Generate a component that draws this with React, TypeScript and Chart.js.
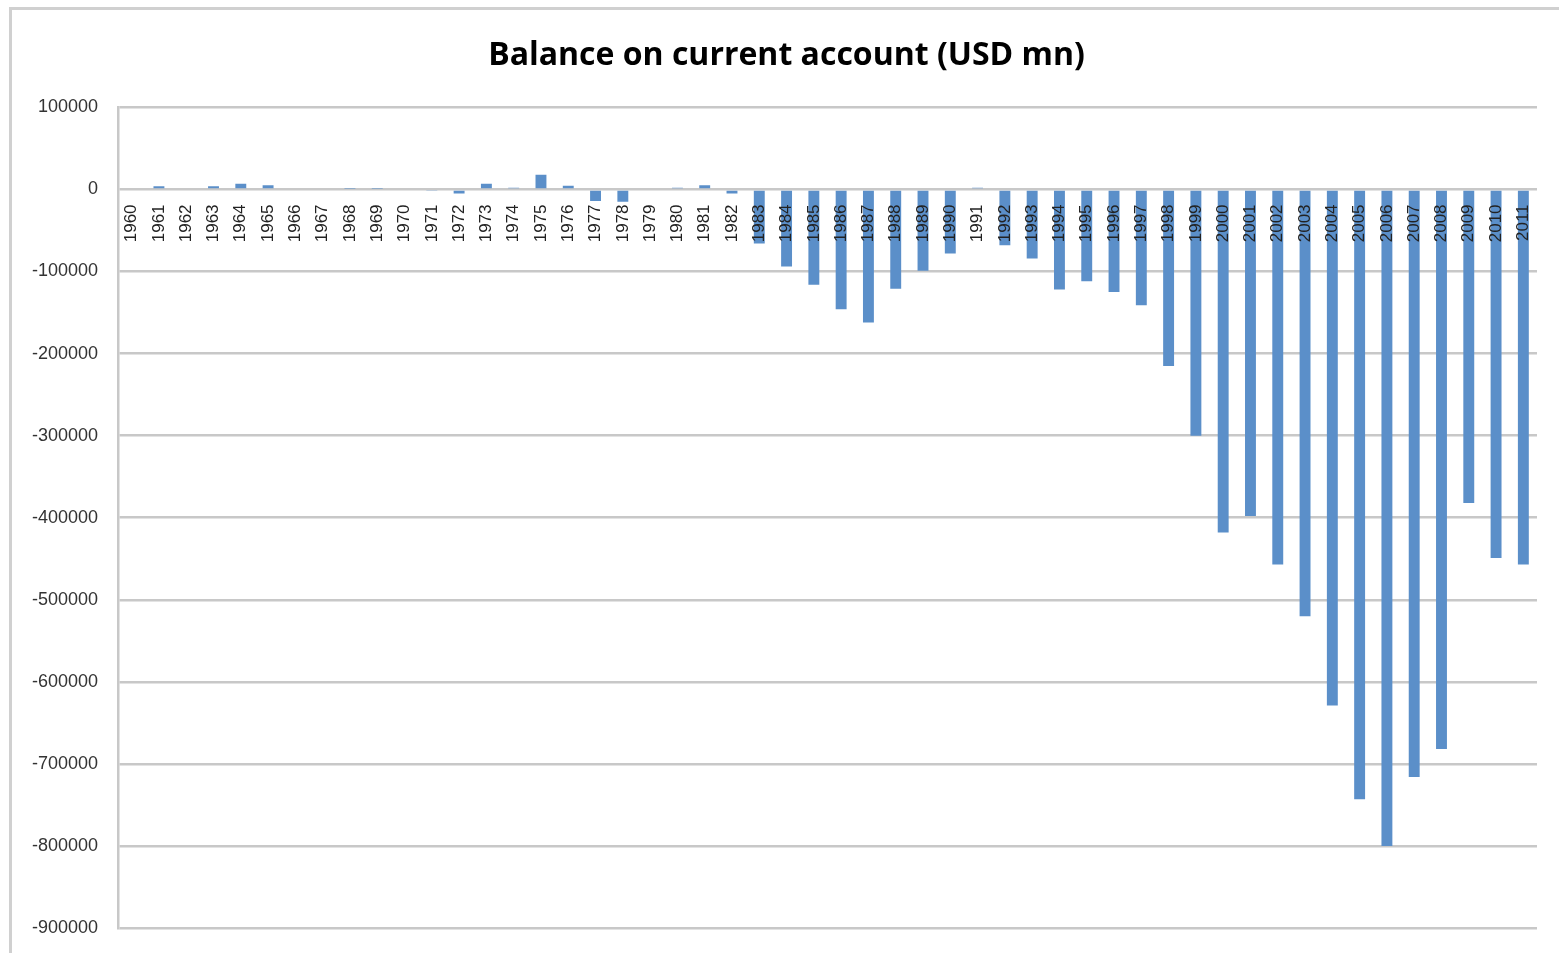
import React, { useEffect, useRef } from "react";
import { Chart, registerables } from "chart.js";

Chart.register(...registerables);

const TITLE = "Balance on current account (USD mn)";

const years: string[] = [
  "1960", "1961", "1962", "1963", "1964", "1965", "1966", "1967", "1968", "1969",
  "1970", "1971", "1972", "1973", "1974", "1975", "1976", "1977", "1978", "1979",
  "1980", "1981", "1982", "1983", "1984", "1985", "1986", "1987", "1988", "1989",
  "1990", "1991", "1992", "1993", "1994", "1995", "1996", "1997", "1998", "1999",
  "2000", "2001", "2002", "2003", "2004", "2005", "2006", "2007", "2008", "2009",
  "2010", "2011",
];

const balance: number[] = [
  1500, 4000, 1500, 4000, 7000, 5000, 1500, 1500, 1000, 1000,
  1500, -2000, -5000, 7000, 2000, 18000, 4500, -14000, -15000, -1500,
  2000, 5000, -5000, -66000, -94000, -116000, -146000, -162000, -121000, -99000,
  -78000, 2000, -68000, -84000, -122000, -112000, -125000, -141000, -215000, -300000,
  -418000, -398000, -457000, -520000, -629000, -743000, -800000, -716000, -682000, -382000,
  -449000, -457000,
];

const yMin = -900000;
const yMax = 100000;
const yStep = 100000;

const labelAreaPlugin = {
  id: "yLabelArea",
  afterLayout(chart: any) {
    if (chart.scales && chart.scales.y) chart.scales.y.left = 0;
  },
};

export default function App() {
  const ref = useRef<HTMLCanvasElement | null>(null);

  useEffect(() => {
    if (!ref.current) return;
    const chart = new Chart(ref.current, {
      type: "bar",
      data: {
        labels: years,
        datasets: [
          {
            label: "Balance",
            data: balance,
            backgroundColor: "#5B8FC9",
            borderWidth: 0,
            barPercentage: 0.4,
            categoryPercentage: 1.0,
          },
        ],
      },
      plugins: [labelAreaPlugin],
      options: {
        responsive: false,
        animation: false,
        devicePixelRatio: 1,
        layout: { padding: { left: 36, right: 22, top: 0, bottom: 25 } },
        plugins: {
          legend: { display: false },
          tooltip: { enabled: false },
          title: {
            display: true,
            text: TITLE,
            color: "#000",
            font: { family: "'Open Sans', sans-serif", weight: "bold", size: 32 },
            padding: { top: 37, bottom: 32 },
          },
        },
        scales: {
          x: {
            type: "category",
            position: { y: 0 },
            afterFit: (s: any) => {
              s.paddingLeft = 0;
              s.paddingRight = 0;
              s.paddingTop = 0;
              s.paddingBottom = 0;
            },
            grid: { display: false, drawTicks: false },
            border: { display: false },
            ticks: {
              z: 1,
              autoSkip: false,
              minRotation: 90,
              maxRotation: 90,
              padding: 15,
              color: "#222",
              font: { family: "'Liberation Sans', Arial, sans-serif", size: 17 },
            },
          },
          y: {
            min: yMin,
            max: yMax,
            afterFit: (s: any) => {
              s.width = 82;
              s.paddingTop = 0;
              s.paddingBottom = 0;
            },
            grid: { color: "#c8c8c8", lineWidth: 2.5, drawTicks: false },
            border: { display: true, color: "#c8c8c8", width: 2.5 },
            ticks: {
              stepSize: yStep,
              padding: 20,
              color: "#333",
              font: { family: "'Liberation Sans', Arial, sans-serif", size: 18 },
              callback: (v: any) => String(v),
            },
          },
        },
      },
    });
    return () => chart.destroy();
  }, []);

  return (
    <div style={{ position: "absolute", left: 0, top: 0, width: 1559, height: 953, overflow: "hidden", background: "#fff" }}>
      <div
        style={{
          position: "absolute",
          left: 9,
          top: 7,
          width: 1700,
          height: 1100,
          borderTop: "3px solid #d0d0d0",
          borderLeft: "3px solid #d0d0d0",
        }}
      />
      <canvas ref={ref} width={1559} height={953} style={{ position: "absolute", left: 0, top: 0 }} />
    </div>
  );
}
